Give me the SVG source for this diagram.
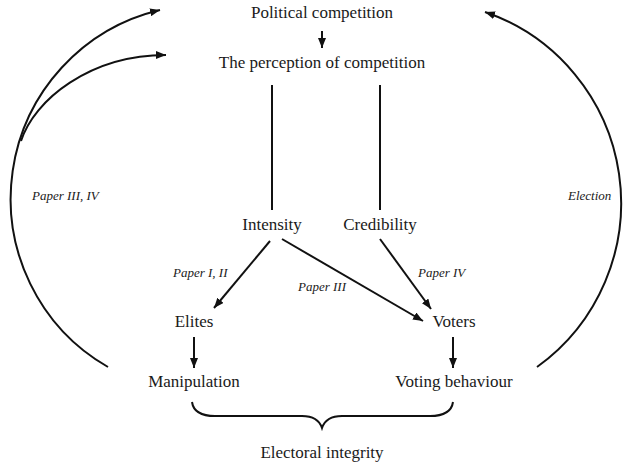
<svg xmlns="http://www.w3.org/2000/svg" width="624" height="466" viewBox="0 0 624 466">
<defs>
<marker id="ah" markerUnits="userSpaceOnUse" markerWidth="10" markerHeight="8" refX="10" refY="4" orient="auto">
<path d="M0,0 L10,4 L0,8 z" fill="#111"/>
</marker>
<style>
.t{font-family:"Liberation Serif","Times New Roman",serif;font-size:17px;fill:#1a1a1a;text-anchor:middle}
.i{font-family:"Liberation Serif","Times New Roman",serif;font-size:13px;font-style:italic;fill:#1a1a1a}
.c{fill:none;stroke:#111;stroke-width:2}
.a{fill:none;stroke:#111;stroke-width:2;marker-end:url(#ah)}
</style>
</defs>
<rect width="624" height="466" fill="#fff"/>
<g id="connectors">
<path class="a" d="M322,31 L322,48"/>
<path class="c" d="M272,85 L272,210"/>
<path class="c" d="M380,85 L380,210"/>
<path class="a" d="M270,241 L214,308"/>
<path class="a" d="M282,239 L423,321"/>
<path class="a" d="M380,239 L431,309"/>
<path class="a" d="M194,337 L194,368"/>
<path class="a" d="M453,337 L453,368"/>
<path class="a" d="M108,367 A194,194 0 0 1 160,10"/>
<path class="a" d="M21,141 C34,100 90,55 166,55"/>
<path class="a" d="M537,367 A202,202 0 0 0 485,12"/>
<path class="c" d="M192,402 Q194,416 215,416 L302,416 Q318,416 322,428 Q326,416 342,416 L430,416 Q451,416 453,402"/>
</g>
<g id="political"><text class="t" x="322" y="18">Political competition</text></g>
<g id="perception"><text class="t" x="322" y="68">The perception of competition</text></g>
<g id="intensity"><text class="t" x="272" y="230">Intensity</text></g>
<g id="credibility"><text class="t" x="380" y="230">Credibility</text></g>
<g id="elites"><text class="t" x="194" y="327">Elites</text></g>
<g id="voters"><text class="t" x="454" y="327">Voters</text></g>
<g id="manipulation"><text class="t" x="194" y="387">Manipulation</text></g>
<g id="voting"><text class="t" x="454" y="387">Voting behaviour</text></g>
<g id="integrity"><text class="t" x="322" y="458">Electoral integrity</text></g>
<g id="labels">
<text class="i" x="32" y="200">Paper III, IV</text>
<text class="i" x="568" y="200">Election</text>
<text class="i" x="173" y="277">Paper I, II</text>
<text class="i" x="298" y="291">Paper III</text>
<text class="i" x="418" y="277">Paper IV</text>
</g>
</svg>
